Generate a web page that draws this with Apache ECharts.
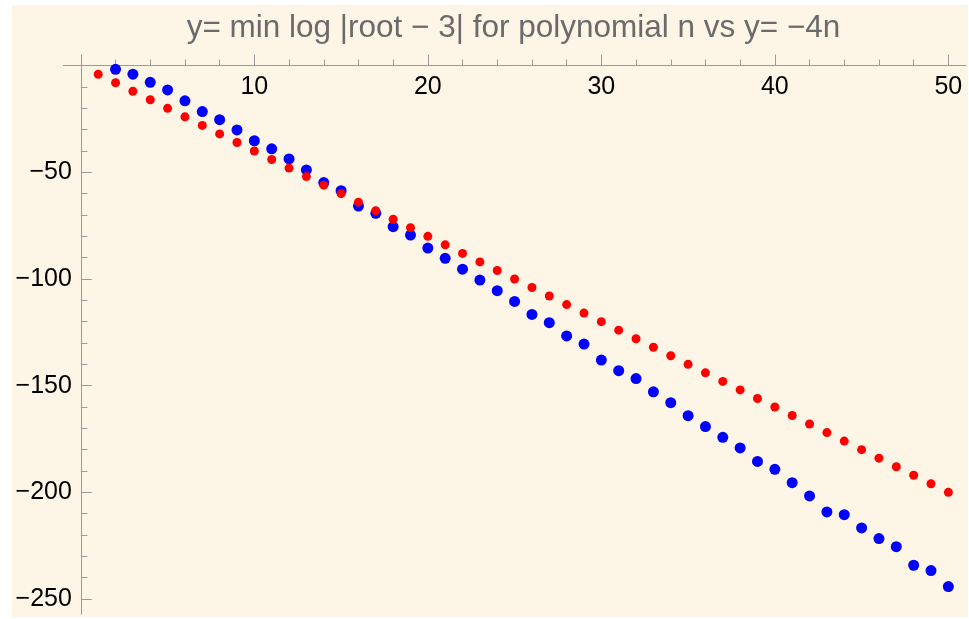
<!DOCTYPE html>
<html>
<head>
<meta charset="utf-8">
<script src="https://cdn.jsdelivr.net/npm/echarts@6/dist/echarts.min.js"></script>
<style>
html,body{margin:0;padding:0;background:#ffffff;width:969px;height:619px;overflow:hidden;}
#chart{position:absolute;left:12px;top:5px;width:956px;height:612px;background:#fdf5e6;}
</style>
</head>
<body>
<div id="chart"></div>
<script>
// ---- data ----
const titleText = "y= min log |root \u2212 3| for polynomial n vs y= \u22124n";
const redN = [1,2,3,4,5,6,7,8,9,10,11,12,13,14,15,16,17,18,19,20,21,22,23,24,25,26,27,28,29,30,31,32,33,34,35,36,37,38,39,40,41,42,43,44,45,46,47,48,49,50];
const redY = [-4,-8,-12,-16,-20,-24,-28,-32,-36,-40,-44,-48,-52,-56,-60,-64,-68,-72,-76,-80,-84,-88,-92,-96,-100,-104,-108,-112,-116,-120,-124,-128,-132,-136,-140,-144,-148,-152,-156,-160,-164,-168,-172,-176,-180,-184,-188,-192,-196,-200];
const blueN = [2,3,4,5,6,7,8,9,10,11,12,13,14,15,16,17,18,19,20,21,22,23,24,25,26,27,28,29,30,31,32,33,34,35,36,37,38,39,40,41,42,43,44,45,46,47,48,49,50];
const blueY = [-1.7,-4.0,-7.8,-11.4,-16.5,-21.5,-25.3,-30.1,-35.2,-39.0,-43.7,-48.9,-54.8,-58.6,-65.8,-69.2,-75.5,-79.4,-85.5,-90.3,-95.4,-100.5,-105.5,-110.5,-116.6,-120.5,-126.7,-130.5,-138.0,-143.0,-146.7,-152.9,-158.0,-164.1,-169.2,-174.2,-179.2,-185.5,-189.2,-195.5,-201.7,-209.2,-210.5,-216.7,-221.7,-225.5,-234.2,-236.7,-244.2];
const xMajorTicks = [10,20,30,40,50];
const xMinorTicks = [2,4,6,8,12,14,16,18,22,24,26,28,32,34,36,38,42,44,46,48];
const yMajorTicks = [-250,-200,-150,-100,-50];
const yMinorTicks = [-240,-230,-220,-210,-190,-180,-170,-160,-140,-130,-120,-110,-90,-80,-70,-60,-40,-30,-20,-10];

// ---- layout ----
const W = 956, H = 612;
const gridL = 51.5, gridR = 2.3, gridT = 50, gridB = 3.1;
const xMin = -1, xMax = 51, yMin = -257, yMax = 5;
const pxPerX = (W - gridL - gridR) / (xMax - xMin);
const pxPerY = (H - gridT - gridB) / (yMax - yMin);
// axes cross at (0,0): shift inward from the grid edges
const xAxisOffset = -(yMax - 0) * pxPerY;
const yAxisOffset = -(0 - xMin) * pxPerX;

const axisColor = '#9a9a9a';
const labelFont = 'Liberation Sans';
const fmt = v => String(v).replace('-', '\u2212');

function xAxisDef(ticks, len, withLabels) {
  return {
    type: 'value', min: xMin, max: xMax, position: 'top', offset: xAxisOffset,
    axisLine: {show: true, onZero: false, lineStyle: {color: axisColor, width: 1}},
    axisTick: {show: true, inside: false, length: len, customValues: ticks, lineStyle: {color: axisColor}},
    axisLabel: withLabels ? {show: true, inside: true, customValues: ticks, margin: 9, fontFamily: labelFont, fontSize: 25, color: '#000', formatter: fmt} : {show: false},
    splitLine: {show: false}
  };
}
function yAxisDef(ticks, len, withLabels) {
  return {
    type: 'value', min: yMin, max: yMax, position: 'left', offset: yAxisOffset,
    axisLine: {show: true, onZero: false, lineStyle: {color: axisColor, width: 1}},
    axisTick: {show: true, inside: true, length: len, customValues: ticks, lineStyle: {color: axisColor}},
    axisLabel: withLabels ? {show: true, inside: false, customValues: ticks, margin: 9, fontFamily: labelFont, fontSize: 25, color: '#000', formatter: fmt} : {show: false},
    splitLine: {show: false}
  };
}

const chart = echarts.init(document.getElementById('chart'), null, {renderer:'canvas'});
chart.setOption({
  animation: false,
  backgroundColor: '#fdf5e6',
  title: {
    text: titleText,
    left: 496.5,
    top: 2,
    textAlign: 'center',
    textStyle: {fontFamily: labelFont, fontSize: 31.5, fontWeight: 'normal', color: '#6b6b6b'}
  },
  grid: {left: gridL, right: gridR, top: gridT, bottom: gridB, containLabel: false, outerBoundsMode: 'none'},
  xAxis: [xAxisDef(xMajorTicks, 11, true), xAxisDef(xMinorTicks, 6, false)],
  yAxis: [yAxisDef(yMajorTicks, 11, true), yAxisDef(yMinorTicks, 6.5, false)],
  series: [
    {
      type: 'scatter', name: 'min log |root - 3|',
      data: blueN.map((n, i) => [n, blueY[i]]),
      symbol: 'circle', symbolSize: 11,
      itemStyle: {color: '#0000ff', opacity: 1}
    },
    {
      type: 'scatter', name: '-4n',
      data: redN.map((n, i) => [n, redY[i]]),
      symbol: 'circle', symbolSize: 9,
      itemStyle: {color: '#ff0000', opacity: 1}
    }
  ]
});
</script>
</body>
</html>
